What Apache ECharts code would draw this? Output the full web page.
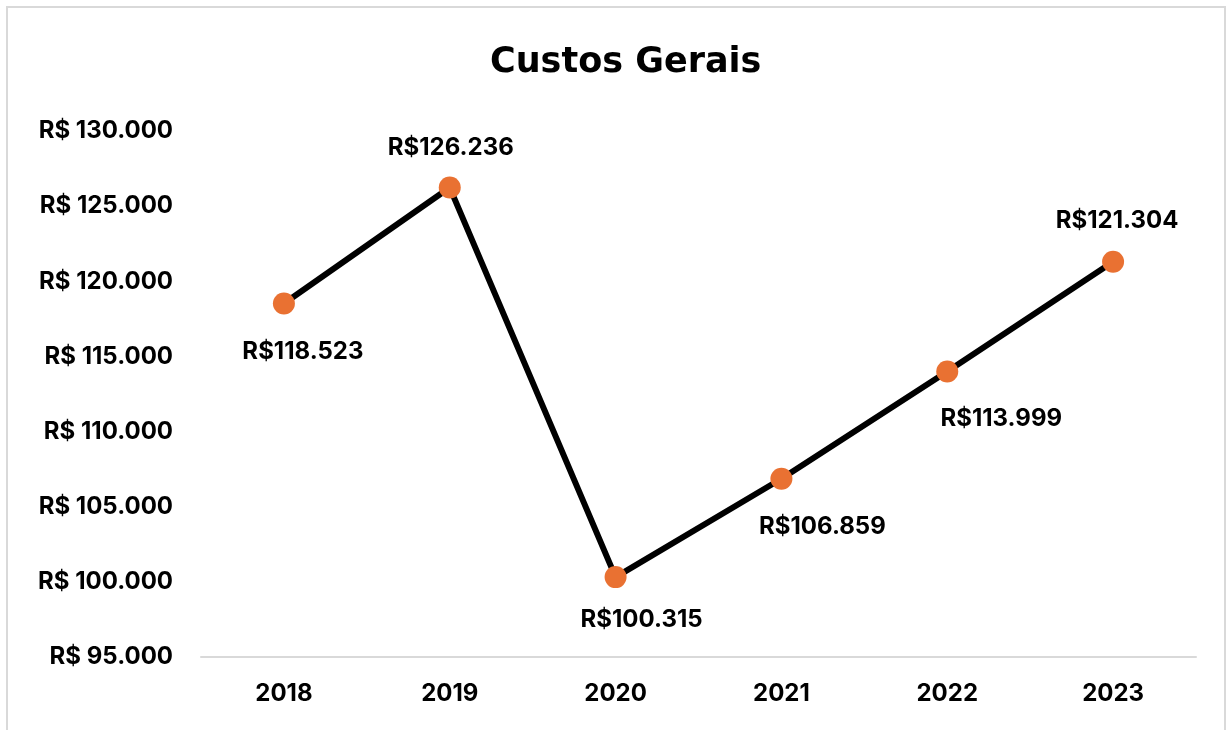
<!DOCTYPE html>
<html>
<head>
<meta charset="utf-8">
<script src="https://cdn.jsdelivr.net/npm/echarts@6/dist/echarts.min.js"></script>
<style>
html,body{margin:0;padding:0;background:#fff;}
#chart{width:1232px;height:730px;}
</style>
</head>
<body>
<div id="chart"></div>
<script>
const title = 'Custos Gerais';
const categories = ['2018', '2019', '2020', '2021', '2022', '2023'];
const values = [118523, 126236, 100315, 106859, 113999, 121304];
const yTicks = { min: 95000, max: 130000, interval: 5000 };
const labelOffsets = [[19, 48], [1, -40], [26, 43], [41, 48], [54, 47], [4, -41]];

function fmt(v) {
  return String(v).replace(/\B(?=(\d{3})+(?!\d))/g, '.');
}

const FONT = 'Inter';
const chart = echarts.init(document.getElementById('chart'));
chart.setOption({
  animation: false,
  backgroundColor: '#ffffff',
  title: {
    text: title,
    left: 485,
    top: 40,
    textStyle: { fontFamily: 'DejaVu Sans', fontWeight: 'bold', fontSize: 35, color: '#000' }
  },
  graphic: [{
    type: 'rect',
    shape: { x: 7, y: 7, width: 1218, height: 760 },
    style: { fill: 'none', stroke: '#d9d9d9', lineWidth: 2 },
    silent: true
  }],
  grid: { left: 201, right: 36, top: 131, bottom: 73 },
  xAxis: {
    type: 'category',
    data: categories,
    boundaryGap: true,
    axisLine: { lineStyle: { color: '#d9d9d9', width: 2 } },
    axisTick: { show: false },
    axisLabel: { margin: 25, fontFamily: FONT, fontWeight: 'bold', fontSize: 24, color: '#000' }
  },
  yAxis: {
    type: 'value',
    min: yTicks.min,
    max: yTicks.max,
    interval: yTicks.interval,
    axisLine: { show: false },
    axisTick: { show: false },
    splitLine: { show: false },
    axisLabel: {
      margin: 28,
      fontFamily: FONT, fontWeight: 'bold', fontSize: 24, color: '#000',
      formatter: v => 'R$ ' + fmt(v)
    }
  },
  series: [{
    type: 'line',
    data: values.map((v, i) => ({
      value: v,
      label: { offset: labelOffsets[i] }
    })),
    lineStyle: { color: '#000', width: 6 },
    itemStyle: { color: '#E97132' },
    symbol: 'circle',
    symbolSize: 22,
    z: 3,
    label: {
      show: true,
      position: 'inside',
      fontFamily: FONT, fontWeight: 'bold', fontSize: 24, color: '#000',
      formatter: p => 'R$' + fmt(p.value)
    }
  }]
});
</script>
</body>
</html>
